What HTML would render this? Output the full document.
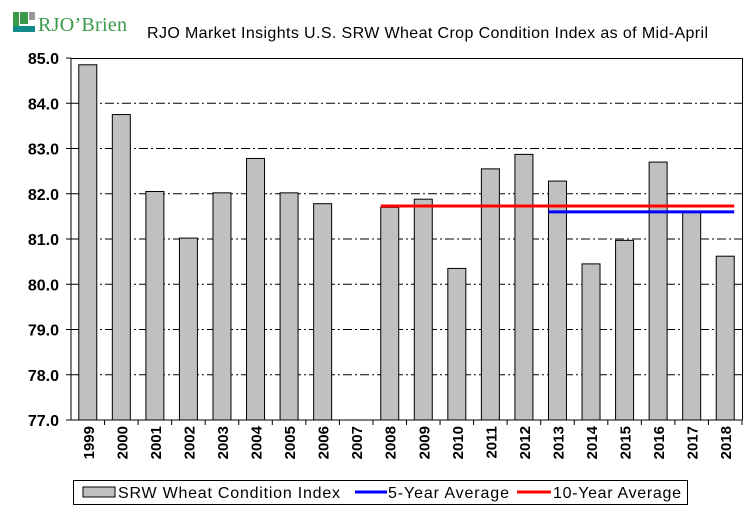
<!DOCTYPE html>
<html><head><meta charset="utf-8"><style>
body{margin:0;background:#fff;font-family:"Liberation Sans",Arial,sans-serif;}
svg text{font-family:"Liberation Sans",Arial,sans-serif;}
</style></head><body>
<svg id="c" width="756" height="516" xmlns="http://www.w3.org/2000/svg">
<g>
<rect x="13" y="12" width="6" height="20" fill="#3a9a4a"/>
<rect x="13" y="26" width="22" height="6" fill="#138a8a"/>
<rect x="20" y="12" width="8" height="12" fill="#3a9a4a"/>
<rect x="29" y="12" width="6" height="8" fill="#999"/>
<text x="38" y="31" font-size="20" fill="#3a9a4a" style="font-family:'Liberation Serif',serif" textLength="89">RJO’Brien</text>
</g>
<text x="147" y="38" font-size="16" fill="#000" textLength="561">RJO Market Insights U.S. SRW Wheat Crop Condition Index as of Mid-April</text>
<g id="grid"></g><g id="bars"></g><g id="lines"></g><g id="axes"></g>
<g>
<rect x="73.5" y="480.5" width="614" height="24" fill="#fff" stroke="#000"/>
<rect x="83" y="487" width="32" height="10" fill="#c0c0c0" stroke="#000"/>
<text x="118" y="498" font-size="16" textLength="222">SRW Wheat Condition Index</text>
<line x1="355" y1="492" x2="387" y2="492" stroke="#0000ff" stroke-width="3"/>
<text x="388" y="498" font-size="16" textLength="121">5-Year Average</text>
<line x1="517" y1="492" x2="551" y2="492" stroke="#ff0000" stroke-width="3"/>
<text x="553" y="498" font-size="16" textLength="128">10-Year Average</text>
</g>
</svg>
<script>
const categories=["1999","2000","2001","2002","2003","2004","2005","2006","2007","2008","2009","2010","2011","2012","2013","2014","2015","2016","2017","2018"];
const values=[84.85,83.75,82.05,81.02,82.02,82.78,82.02,81.78,null,81.7,81.88,80.35,82.55,82.87,82.28,80.45,80.97,82.7,81.6,80.62];
const avg5=81.6, avg5Start="2013", avg5End="2018";
const avg10=81.73, avg10Start="2008", avg10End="2018";
const yTicks=[77,78,79,80,81,82,83,84,85];
const NS="http://www.w3.org/2000/svg";
const L=71,R=742,T=58,B=420,ymin=77,ymax=85;
const step=(R-L)/categories.length;
const y=v=>B-(v-ymin)/(ymax-ymin)*(B-T);
const xc=i=>L+step*(i+0.5);
function mk(p,tag,a){const e=document.createElementNS(NS,tag);for(const k in a)e.setAttribute(k,a[k]);document.getElementById(p).appendChild(e);return e;}
yTicks.forEach(t=>{
  if(t>ymin&&t<ymax){const g=mk('grid','line',{x1:L,x2:R,y1:y(t),y2:y(t),stroke:'#000','stroke-dasharray':'9,3,2,3'});
  
  }
  const tk=mk('axes','line',{x1:L-5,x2:L,y1:y(t),y2:y(t),stroke:'#000'});
  
  
  const tx=mk('axes','text',{x:L-12,y:y(t)+6,'text-anchor':'end','font-size':'16','font-weight':'bold'});
  tx.textContent=t.toFixed(1);
  
  
});
const topBorder=mk('axes','line',{x1:L,x2:R,y1:T+0.5,y2:T+0.5,stroke:'#000'});


const rightBorder=mk('axes','line',{x1:R+0.5,x2:R+0.5,y1:T,y2:B,stroke:'#000'});


const ya=mk('axes','line',{x1:L,x2:L,y1:T,y2:B,stroke:'#000'});


const xa=mk('axes','line',{x1:L-5,x2:R,y1:B,y2:B,stroke:'#000'});


const bw=18;
categories.forEach((c,i)=>{
  const tk=mk('axes','line',{x1:L+step*(i+1),x2:L+step*(i+1),y1:B,y2:B+5,stroke:'#000'});
  
  
  const tx=mk('axes','text',{transform:`translate(${xc(i)+6},${B+6}) rotate(-90)`,'text-anchor':'end','font-size':'15','font-weight':'bold'});
  tx.textContent=c;
  
  
  const v=values[i];
  if(v!=null){const b=mk('bars','rect',{x:xc(i)-bw/2,y:y(v),width:bw,height:B-y(v),fill:'#c0c0c0',stroke:'#000'});
  
  }
});
function avgLine(v,s,e,col,name){
  const i0=categories.indexOf(s),i1=categories.indexOf(e);
  const l=mk('lines','line',{x1:xc(i0)-bw/2,x2:xc(i1)+bw/2,y1:y(v),y2:y(v),stroke:col,'stroke-width':3});
  
  
}
avgLine(avg10,avg10Start,avg10End,'#ff0000','ten-year-average-line');
avgLine(avg5,avg5Start,avg5End,'#0000ff','five-year-average-line');
</script>
</body></html>
